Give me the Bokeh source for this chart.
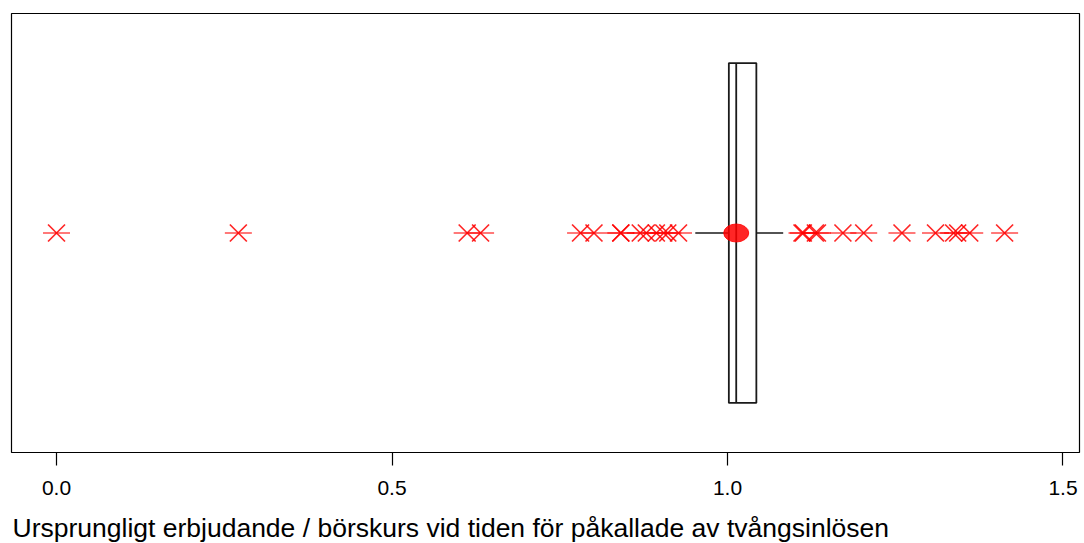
from bokeh.plotting import figure
from bokeh.models import FixedTicker, Range1d, Title
from bokeh.embed import file_html
from bokeh.resources import INLINE

# ---- data ----
points = [0.0, 0.271, 0.612, 0.632, 0.781, 0.801, 0.841, 0.841, 0.870, 0.879,
          0.894, 0.905, 0.911, 0.927, 1.111, 1.113, 1.131, 1.134, 1.172, 1.203,
          1.260, 1.310, 1.337, 1.343, 1.361, 1.413]
cluster_center = [1.013]          # dense cluster of observations near 1.0
box_q1 = 1.002
box_median = 1.013
box_q3 = 1.043
whisker_low = 0.952
whisker_high = 1.083
tick_values = [0.0, 0.5, 1.0, 1.5]
tick_labels = ["0.0", "0.5", "1.0", "1.5"]
x_label = "Ursprungligt erbjudande / börskurs vid tiden för påkallade av tvångsinlösen"

ROW = 0.5
BOX_HALF = 0.387

p = figure(width=1082, height=543, output_backend="svg", toolbar_location=None,
           x_range=Range1d(-0.0671, 1.5246), y_range=Range1d(0, 1))
p.min_border_left = 11
p.min_border_right = 3
p.min_border_top = 13
p.min_border_bottom = 0
p.background_fill_color = "white"
p.border_fill_color = "white"
p.outline_line_color = "black"
p.outline_line_width = 1.2
p.xgrid.visible = False
p.ygrid.visible = False
p.yaxis.visible = False

ax = p.xaxis[0]
ax.ticker = FixedTicker(ticks=tick_values)
ax.major_label_overrides = {v: l for v, l in zip(tick_values, tick_labels)}
ax.axis_line_color = None
ax.major_tick_in = 0
ax.major_tick_out = 13
ax.major_tick_line_color = "black"
ax.major_tick_line_width = 1.2
ax.minor_tick_line_color = None
ax.major_label_standoff = 15
ax.major_label_text_font = "Liberation Sans"
ax.major_label_text_font_size = "21px"
ax.major_label_text_color = "black"
# small spacer between tick labels and the (left-aligned) axis title below
ax.axis_label = " "
ax.axis_label_text_font_size = "6px"
ax.axis_label_standoff = 4

p.add_layout(Title(text=x_label, align="left", offset=1, text_font="Liberation Sans",
                   text_font_size="26.5px", text_font_style="normal", text_color="black",
                   standoff=1), "below")

# ---- boxplot ----
p.quad(left=[box_q1], right=[box_q3], bottom=[ROW - BOX_HALF], top=[ROW + BOX_HALF],
       fill_color=None, line_color="#1a1a1a", line_width=1.8)
p.segment(x0=[box_median], x1=[box_median], y0=[ROW - BOX_HALF], y1=[ROW + BOX_HALF],
          line_color="#1a1a1a", line_width=1.8)
p.segment(x0=[whisker_low, box_q3], x1=[box_q1, whisker_high], y0=[ROW, ROW], y1=[ROW, ROW],
          line_color="#1a1a1a", line_width=1.3)

# ---- points ----
ys = [ROW] * len(points)
p.scatter(points, ys, marker="dash", size=27, line_color="red", line_alpha=0.7, line_width=1.6)
p.scatter(points, ys, marker="x", size=24, line_color="red", line_alpha=0.85, line_width=1.7)

# cluster blob
p.ellipse(x=cluster_center, y=[ROW], width=25, height=18, width_units="screen",
          height_units="screen", fill_color="red", fill_alpha=0.85, line_color="red",
          line_alpha=0.85)

open("out.html", "w").write(file_html(p, INLINE))
